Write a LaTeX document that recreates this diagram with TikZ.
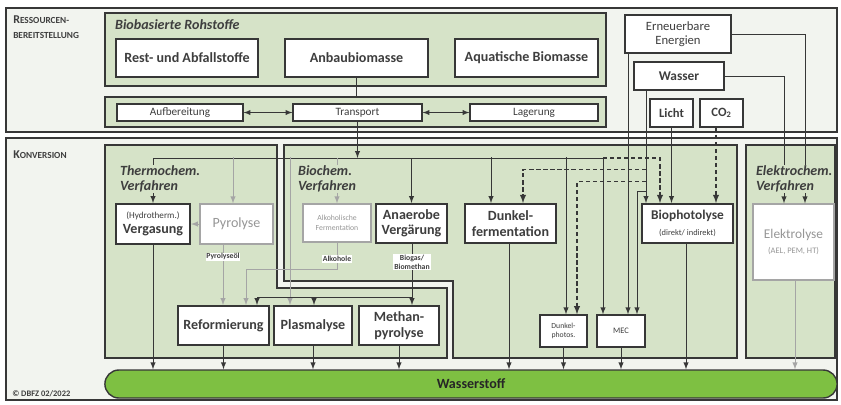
\documentclass[tikz,border=0pt]{standalone}
\usepackage{fontspec}
\setmainfont{Carlito}
\usetikzlibrary{calc}
\definecolor{panelgreen}{RGB}{214,227,200}
\definecolor{framebg}{RGB}{242,244,239}
\definecolor{darkline}{RGB}{55,55,55}
\definecolor{darktext}{RGB}{62,62,62}
\definecolor{graybd}{RGB}{165,165,165}
\definecolor{graytext}{RGB}{150,150,150}
\definecolor{hgreen}{RGB}{126,192,66}

\begin{document}
\begin{tikzpicture}[x=0.025cm,y=-0.025cm,
  frame/.style={draw=darkline,fill=framebg,line width=1pt},
  panel/.style={draw=darkline,fill=panelgreen,line width=1pt},
  box/.style={draw=darkline,fill=white,line width=1pt,inner sep=0pt,align=center,text=darktext,font=\fontsize{10}{11}\selectfont\bfseries},
  strongbox/.style={box,line width=1.4pt},
  thinbox/.style={box,line width=0.8pt,font=\fontsize{8}{9}\selectfont},
  graybox/.style={box,draw=graybd,text=graytext,font=\fontsize{10}{11}\selectfont},
  heading/.style={anchor=north west,align=left,inner sep=0.6pt,text=darktext,font=\fontsize{10}{10.2}\selectfont\bfseries\itshape},
  lab/.style={fill=white,inner sep=0.6pt,text=darktext,font=\fontsize{5.5}{6.5}\selectfont\bfseries,align=center},
  arr/.style={-latex,darkline,line width=0.7pt},
  ln/.style={darkline,line width=0.7pt},
  garr/.style={-latex,graybd,line width=0.7pt},
  darr/.style={-latex,darkline,line width=1pt,dash pattern=on 3pt off 2pt}]

\useasboundingbox (0,0) rectangle (841,404);

\draw[frame] (6,8) rectangle (837,132);
\draw[frame] (6,138) rectangle (837,400);

\node[panel,minimum width=12.525cm,minimum height=1.825cm] (rohpanel) at (355.5,49.5) {};
\node[panel,minimum width=12.525cm,minimum height=0.75cm] (tpanel) at (355.5,112) {};
\draw[panel] (105,145) -- (277,145) -- (277,288) -- (447,288) -- (447,358) -- (105,358) -- cycle;
\draw[panel] (284,145) -- (737,145) -- (737,358) -- (453,358) -- (453,281) -- (284,281) -- cycle;
\draw[panel] (746,145) rectangle (835,358);

% Ressourcen
\node[box,minimum width=3.55cm,minimum height=0.95cm] (rest) at (187,58) {Rest- und Abfallstoffe};
\node[box,minimum width=3.575cm,minimum height=0.95cm] (anbau) at (356.5,58) {Anbaubiomasse};
\node[box,minimum width=3.575cm,minimum height=0.95cm] (aquat) at (526.5,58) {Aquatische Biomasse};
\node[thinbox,minimum width=3.15cm,minimum height=0.425cm] (aufb) at (180,112.5) {Aufbereitung};
\node[thinbox,minimum width=3.225cm,minimum height=0.425cm] (transp) at (357.5,112.5) {Transport};
\node[thinbox,minimum width=3.2cm,minimum height=0.425cm] (lager) at (534,112.5) {Lagerung};
\node[box,minimum width=2.65cm,minimum height=0.95cm,font=\fontsize{9}{10}\selectfont] (erneu) at (678,34) {Erneuerbare\\Energien};
\node[box,minimum width=2.25cm,minimum height=0.7cm,font=\fontsize{9.5}{10}\selectfont\bfseries] (wasser) at (679,76) {Wasser};
\node[box,minimum width=1.075cm,minimum height=0.7cm,font=\fontsize{9}{10}\selectfont\bfseries] (licht) at (671.5,113) {Licht};
\node[box,minimum width=1.075cm,minimum height=0.7cm,font=\fontsize{9}{10}\selectfont\bfseries] (co2) at (721.5,113) {CO\textsubscript{2}};

% Konversion
\node[strongbox,minimum width=1.85cm,minimum height=1cm] (verg) at (153,224) {{\fontsize{6.5}{8}\selectfont\mdseries (Hydrotherm.)}\\Vergasung};
\node[graybox,minimum width=1.825cm,minimum height=1cm] (pyro) at (236.5,224) {Pyrolyse};
\node[graybox,minimum width=1.7cm,minimum height=0.95cm,font=\fontsize{5.5}{7}\selectfont] (alkferm) at (337,223) {Alkoholische\\Fermentation};
\node[strongbox,minimum width=1.775cm,minimum height=0.975cm] (anaerob) at (411.5,223.5) {Anaerobe\\Vergärung};
\node[strongbox,minimum width=2.275cm,minimum height=0.975cm] (dunkelf) at (510.5,223.5) {Dunkel-\\fermentation};
\node[strongbox,minimum width=2.275cm,minimum height=0.975cm,font=\fontsize{9.5}{11}\selectfont\bfseries] (biophot) at (687.5,223.5) {Biophotolyse\\{\fontsize{6}{7}\selectfont\mdseries (direkt/ indirekt)}};
\node[graybox,minimum width=2.025cm,minimum height=1.9cm,font=\fontsize{9.5}{11}\selectfont] (elyse) at (793.5,242) {Elektrolyse\\{\fontsize{6}{7}\selectfont (AEL, PEM, HT)}};
\node[strongbox,minimum width=2.275cm,minimum height=0.975cm] (reform) at (223.5,325.5) {Reformierung};
\node[strongbox,minimum width=1.95cm,minimum height=0.975cm] (plasma) at (313,325.5) {Plasmalyse};
\node[strongbox,minimum width=2cm,minimum height=0.975cm] (methan) at (399,325.5) {Methan-\\pyrolyse};
\node[box,minimum width=1.175cm,minimum height=0.8cm,font=\fontsize{5.5}{7}\selectfont] (dphot) at (563.5,331) {Dunkel-\\photos.};
\node[box,minimum width=1.2cm,minimum height=0.8cm,font=\fontsize{6}{7}\selectfont] (mec) at (621,331) {MEC};
\node[box,fill=hgreen,rounded corners=0.35cm,minimum width=18.3cm,minimum height=0.7cm,text=black!85] (h2) at (471,384) {Wasserstoff};

% Ressourcen connectors
\draw[ln] (anbau.south) -- (anbau.south |- tpanel.north);
\draw[latex-latex,ln] (aufb.east) -- (transp.west);
\draw[latex-latex,ln] (transp.east) -- (lager.west);
\coordinate (busL) at (153,158);
\coordinate (busR) at (603,158);
\coordinate (busD) at (660,158);
\draw[arr] (transp.south) -- (transp.south |- busL);
\draw[ln] (busL) -- (busR);
\draw[darr] (busR) -- (busD) -- (busD |- biophot.north);

% branches
\draw[arr] (busL) -- (verg.north);
\draw[garr] ($(pyro.north)+(-3.5,0)$) coordinate (t) ++(0,-46) -- (t);
\draw[garr] ($(plasma.north)+(-23,0)$) coordinate (t) ++(0,-148) -- (t);
\draw[garr] (alkferm.north |- busL) -- (alkferm.north);
\draw[arr] (anaerob.north |- busL) -- (anaerob.north);
\draw[arr] ($(dunkelf.north)+(-19.5,0)$) coordinate (t) ++(0,-46) -- (t);
\draw[arr] ($(dphot.north)+(2.5,0)$) coordinate (t) ++(0,-157) -- (t);
\draw[arr] (busR) -- (busR |- mec.north);

% Energie, Wasser, Licht, CO2
\draw[arr] ($(erneu.south)+(-50,0)$) coordinate (es) -- (es |- mec.north);
\draw[arr] (erneu.east) -| ($(elyse.north)+(11.5,0)$);
\draw[arr] (wasser.east) -| ($(elyse.north)+(-9.5,0)$);
\draw[arr] ($(wasser.south)+(-33,0)$) coordinate (ws) -- (ws |- biophot.north);
\draw[darr] ($(ws)+(0,79)$) -| ($(dunkelf.north)+(12.5,0)$);
\draw[darr] ($(ws)+(0,91)$) -| ($(dphot.north)+(13.5,0)$);
\draw[arr] ($(ws)+(0,101)$) -| ($(mec.north)+(16,0)$);
\draw[arr] (licht.south) -- (licht.south |- biophot.north);
\draw[darr] ($(co2.south)+(-5.5,0)$) coordinate (c) -- (c |- biophot.north);

% Zwischenprodukte
\draw[garr] (pyro.west) -- (verg.east);
\draw[garr] ($(pyro.south)+(-13.5,0)$) coordinate (t) -- node[lab,pos=0.2] {Pyrolyseöl} (t |- reform.north);
\draw[garr] (alkferm.south) -- node[lab,pos=0.6] {Alkohole} ++(0,27) -| ($(reform.north)+(22.5,0)$);
\draw[arr] ($(anaerob.south)+(0.5,0)$) coordinate (a) -- node[lab,pos=0.3] {Biogas/\\Biomethan} (a |- methan.north);
\draw[arr] ($(a)+(0,53)$) -| ($(plasma.north)+(1,0)$);
\draw[arr] ($(a)+(0,53)$) -| ($(reform.north)+(33.5,0)$);

% Wasserstoff
\draw[arr] (verg.south) -- (verg.south |- h2.north);
\draw[arr] (reform.south) -- (reform.south |- h2.north);
\draw[arr] (plasma.south) -- (plasma.south |- h2.north);
\draw[arr] (methan.south) -- (methan.south |- h2.north);
\draw[arr] ($(dunkelf.south)+(-1.5,0)$) coordinate (t) -- (t |- h2.north);
\draw[arr] (dphot.south) -- (dphot.south |- h2.north);
\draw[arr] (mec.south) -- (mec.south |- h2.north);
\draw[arr] ($(biophot.south)+(-1.5,0)$) coordinate (t) -- (t |- h2.north);
\draw[garr] ($(elyse.south)+(1.5,0)$) coordinate (t) -- (t |- h2.north);

% headings
\node[heading,fill=none] (rohHead) at (114,18) {Biobasierte Rohstoffe};
\node[heading,fill=panelgreen] (thermoHead) at (119,165) {Thermochem.\\Verfahren};
\node[heading,fill=panelgreen] (bioHead) at (297,165) {Biochem.\\Verfahren};
\node[heading,fill=panelgreen] (elektroHead) at (755,165) {Elektrochem.\\Verfahren};
\node[anchor=north west,inner sep=0pt,text=darktext,font=\bfseries,align=left] (ressHead) at (13,15) {{\fontsize{8.5}{9}\selectfont R}{\fontsize{6.6}{9}\selectfont ESSOURCEN-}\\[-1pt]{\fontsize{6.6}{9}\selectfont BEREITSTELLUNG}};
\node[anchor=north west,inner sep=0pt,text=darktext,font=\bfseries] (konvHead) at (13,150) {{\fontsize{8.5}{9}\selectfont K}{\fontsize{6.6}{9}\selectfont ONVERSION}};
\node[anchor=west,inner sep=0pt,text=darktext,font=\fontsize{6}{7}\selectfont\bfseries] (copy) at (12,393.5) {© DBFZ 02/2022};
\end{tikzpicture}
\end{document}
